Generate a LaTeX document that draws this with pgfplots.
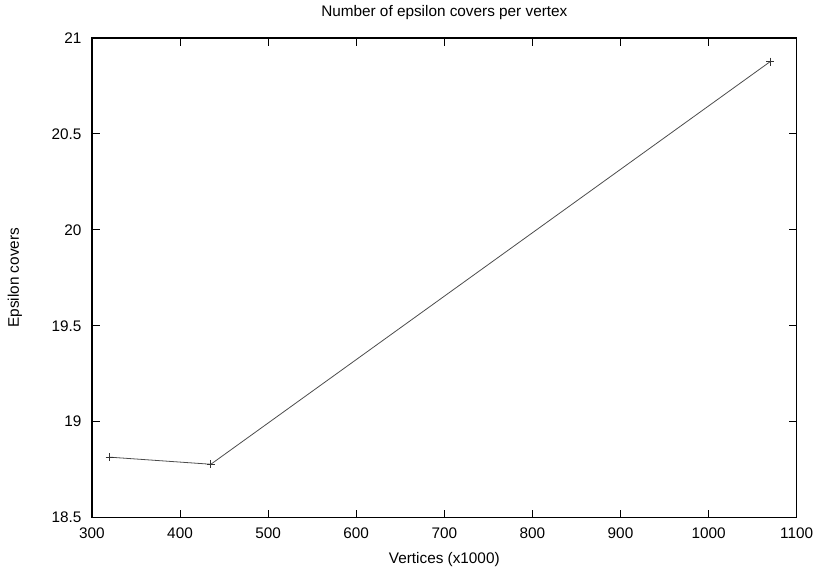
\documentclass[border=0pt]{standalone}
\usepackage{fontspec}
\setmainfont{Liberation Sans}
\usepackage{pgfplots}
\pgfplotsset{compat=1.18}
\begin{document}
\begin{tikzpicture}
\begin{axis}[
  scale only axis,
  width=529pt, height=360pt,
  xmin=300, xmax=1100, ymin=18.5, ymax=21,
  xtick={300,400,...,1100},
  ytick={18.5,19,...,21},
  /pgf/number format/1000 sep={},
  /pgf/number format/assume math mode=true,
  tick align=inside,
  tick pos=both,
  major tick length=6pt,
  axis line style={line width=0.9pt},
  tick style={line width=0.7pt, black},
  title={Number of epsilon covers per vertex},
  xlabel={Vertices (x1000)},
  ylabel={Epsilon covers},
  ticklabel style={font=\fontsize{11.5}{13}\selectfont},
  label style={font=\fontsize{11.5}{13}\selectfont},
  title style={font=\fontsize{11.5}{13}\selectfont, at={(0.5,1)}, anchor=center, yshift=12.75pt},
  xlabel style={at={(0.5,0)}, anchor=center, yshift=-31.5pt},
  ylabel style={at={(0,0.5)}, anchor=center, yshift=57.75pt},
  xticklabel style={yshift=-4pt},
  yticklabel style={xshift=-4.4pt},
]
\addplot[color=black!70, line width=0.6pt, mark=+, mark size=3pt, mark options={black!80}] coordinates {
  (320,18.815) (435,18.778) (1070,20.877)
};
\coordinate (sw) at (rel axis cs:0,0);
\coordinate (ne) at (rel axis cs:1,1);
\end{axis}
\pgfresetboundingbox
\path ([shift={(-69pt,-37.5pt)}]sw) rectangle ([shift={(16pt,28.5pt)}]ne);
\end{tikzpicture}
\end{document}
